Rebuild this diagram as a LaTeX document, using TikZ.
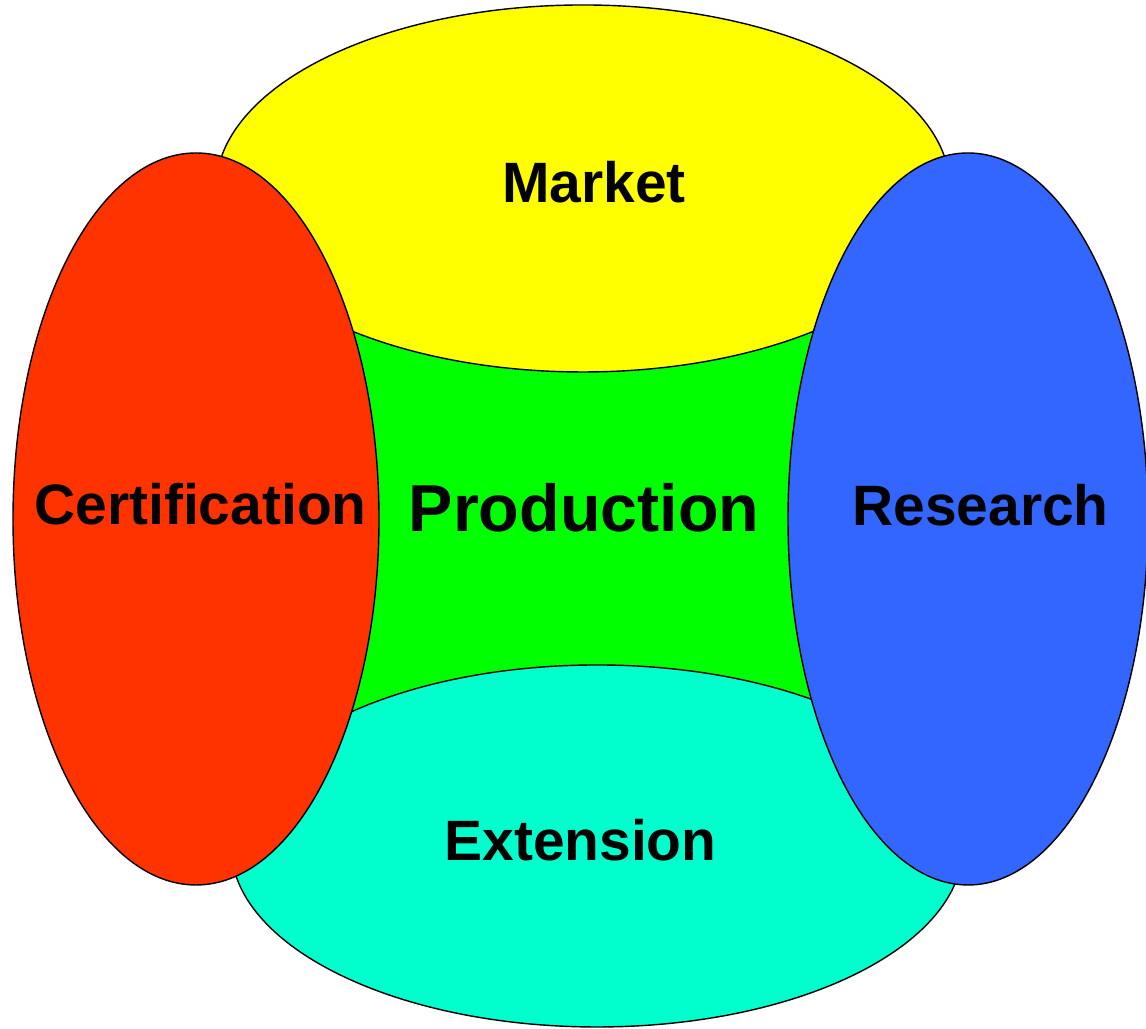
\documentclass[tikz,border=0pt]{standalone}
\usepackage{fontspec}
\setmainfont{Liberation Sans}
\usetikzlibrary{shapes.geometric}

\definecolor{marketyellow}{HTML}{FFFF00}
\definecolor{prodgreen}{HTML}{00FF00}
\definecolor{certred}{HTML}{FF3300}
\definecolor{resblue}{HTML}{3366FF}
\definecolor{extteal}{HTML}{00FFCC}

\begin{document}
\begin{tikzpicture}[
		area_style/.style={ellipse,draw=black,line width=0.4pt,inner sep=0pt,outer sep=0pt},
		label_style/.style={anchor=base,font=\fontsize{16.2}{19}\selectfont\bfseries,inner sep=0pt},
		big_label_style/.style={anchor=base,font=\fontsize{18.9}{22}\selectfont\bfseries,inner sep=0pt}]
		
		\useasboundingbox (0,0) rectangle (11.46,10.29);
		\clip (0,0) rectangle (11.46,10.29);
		
		% centre part
		\fill[prodgreen] (3.4,3.09) rectangle (8.3,7.29);
		
		\node[area_style,fill=marketyellow,minimum width=7.34cm,minimum height=3.67cm] (market) at (5.83,8.405) {};
		\node[area_style,fill=extteal,minimum width=7.32cm,minimum height=3.62cm] (extension) at (5.97,1.83) {};
		\node[area_style,fill=certred,minimum width=3.66cm,minimum height=7.32cm] (certification) at (1.96,5.10) {};
		\node[area_style,fill=resblue,minimum width=3.60cm,minimum height=7.32cm] (research) at (9.68,5.10) {};
		
		\node[label_style] (market_text) at (5.94,8.263) {Market};
		\node[label_style] (cert_text) at (2.005,5.04) {Certification};
		\node[big_label_style] (prod_text) at (5.84,4.973) {Production};
		\node[label_style] (res_text) at (9.805,5.03) {Research};
		\node[label_style] (ext_text) at (5.805,1.683) {Extension};

		\end{tikzpicture}
\end{document}
